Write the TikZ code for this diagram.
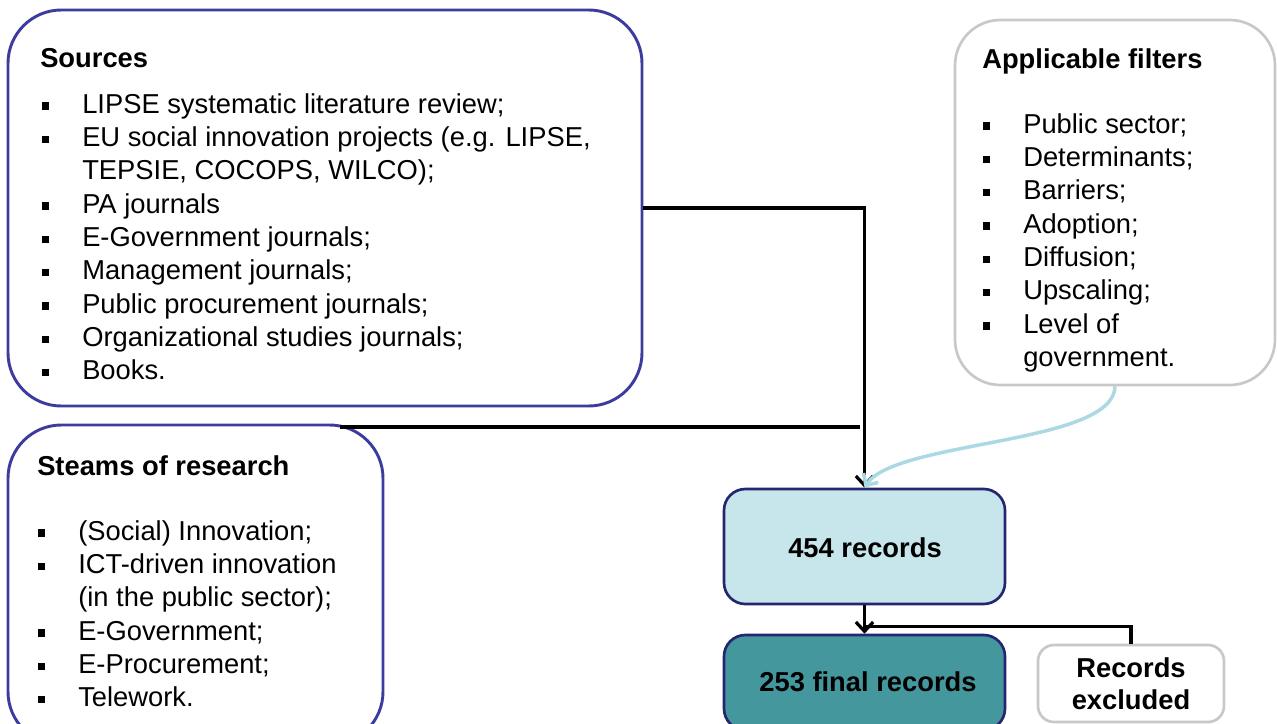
\documentclass[tikz,border=0pt]{standalone}
\usepackage{fontspec}
\setmainfont{Liberation Sans}
\usetikzlibrary{positioning,fit,arrows.meta}

\definecolor{srcblue}{RGB}{60,60,158}
\definecolor{navy}{RGB}{38,38,112}
\definecolor{paleblue}{RGB}{198,230,236}
\definecolor{teal}{RGB}{69,151,158}
\definecolor{softgrey}{RGB}{200,200,200}
\definecolor{skyline}{RGB}{170,217,227}

\newcommand{\bul}{\makebox[30pt][l]{\rule[2.6pt]{5.4pt}{5.4pt}}}
\newcommand{\cont}{\hspace*{30pt}}

\tikzset{
  srcbox/.style={draw=srcblue,line width=2.2pt,rounded corners=40pt,inner sep=0pt},
  fltbox/.style={draw=softgrey,line width=2pt,rounded corners=34pt,inner sep=0pt},
  recbox/.style={draw=navy,line width=2pt,rounded corners=16pt,inner sep=0pt},
  excbox/.style={draw=softgrey,line width=2pt,rounded corners=12pt,inner sep=0pt},
  boldtext/.style={inner sep=0pt,align=center,font=\fontsize{20.5}{24}\selectfont\bfseries},
  titletext/.style={anchor=north west,inner sep=0pt,font=\fontsize{20.5}{25}\selectfont\bfseries},
  listtext/.style={anchor=north west,inner sep=0pt,align=left,font=\fontsize{20.5}{25}\selectfont},
  link/.style={draw=black,line width=2.4pt},
  >={Straight Barb[length=7pt,width=13pt]}
}

\begin{document}
\begin{tikzpicture}[x=0.75pt,y=-0.75pt]
  \clip (0,0) rectangle (1277,724);

  % boxes
  \node[srcbox,fit={(8,10) (642,406)}] (src) {};
  \node[srcbox,fit={(8,425) (383,745)}] (stm) {};
  \node[fltbox,fit={(955,20) (1275,385)}] (flt) {};
  \node[recbox,fill=paleblue,fit={(724,489) (1005,604)}] (rec) {};
  \node[recbox,fill=teal,fit={(724,635) (1005,730)}] (fin) {};
  \node[excbox,fill=white,fit={(1038,645) (1224,722)}] (exc) {};

  % texts
  \node[boldtext] (rectext) at (865,548) {454 records};
  \node[boldtext] (fintext) at (868,682) {253 final records};
  \node[boldtext] (exctext) at (1131,684) {Records\\excluded};

  \node[titletext] (srctitle) at (40,48) {Sources};
  \node[listtext] (srclist) at (42,93) {\bul LIPSE systematic literature review;\\
    \bul EU social innovation projects (e.g. LIPSE,\\
    \cont TEPSIE, COCOPS, WILCO);\\
    \bul PA journals\\
    \bul E-Government journals;\\
    \bul Management journals;\\
    \bul Public procurement journals;\\
    \bul Organizational studies journals;\\
    \bul Books.};

  \node[titletext] (stmtitle) at (37,455) {Steams of research};
  \node[listtext] (stmlist) at (38,520) {\bul (Social) Innovation;\\
    \bul ICT-driven innovation\\
    \cont (in the public sector);\\
    \bul E-Government;\\
    \bul E-Procurement;\\
    \bul Telework.};

  \node[titletext] (flttitle) at (982,48) {Applicable filters};
  \node[listtext] (fltlist) at (983,113) {\bul Public sector;\\
    \bul Determinants;\\
    \bul Barriers;\\
    \bul Adoption;\\
    \bul Diffusion;\\
    \bul Upscaling;\\
    \bul Level of\\
    \cont government.};

  % connectors
  \coordinate (stmstart) at (340,427);
  \coordinate (stmend) at (860,427);
  \draw[link] (stmstart) -- (stmend);
  \draw[link,->] (src.east) -| (rec.north);
  \draw[skyline,line width=2.6pt,->] (flt.south) .. controls (1114,445) and (895,440) .. (rec.north);

  \draw[link,->] (rec.south) -- (fin.north);
  \path (rec.south) ++(0,21) coordinate (split);
  \draw[link] (split) -| (exc.north);
\end{tikzpicture}
\end{document}
